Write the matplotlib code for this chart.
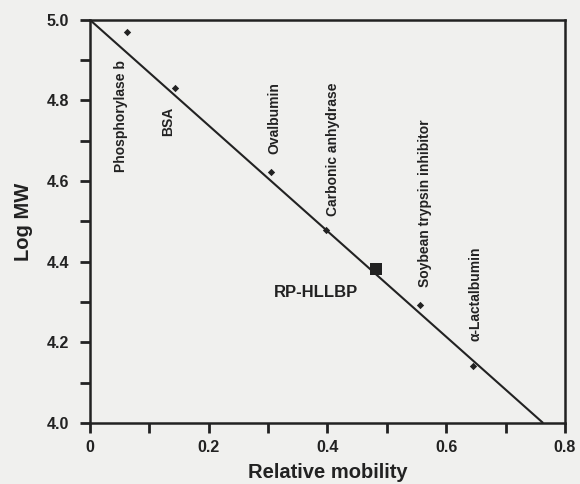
import matplotlib
matplotlib.use("Agg")
import matplotlib.pyplot as plt
from matplotlib.ticker import MultipleLocator, FixedLocator, FormatStrFormatter

# --------------- 数据 ---------------
proteins = ["Phosphorylase b", "BSA", "Ovalbumin", "Carbonic anhydrase",
            "Soybean trypsin inhibitor", "\u03b1-Lactalbumin"]
mobility = [0.062, 0.144, 0.305, 0.397, 0.556, 0.645]
log_mw = [4.970, 4.832, 4.623, 4.479, 4.293, 4.142]

sample_name = "RP-HLLBP"
sample_mobility = 0.481
sample_log_mw = 4.382

fit_slope = -1.31
fit_intercept = 5.0

# 标签位置（文字中心）
label_x = [0.053, 0.131, 0.310, 0.409, 0.564, 0.650]
label_y = [4.762, 4.747, 4.757, 4.680, 4.545, 4.320]

plt.rcParams["font.family"] = ["Liberation Sans", "DejaVu Sans"]
ink = "#222222"
bg = "#f0f0ee"

fig = plt.figure(figsize=(5.8, 4.84), dpi=100, facecolor=bg)
ax = fig.add_axes([0.155, 0.126, 0.819, 0.833], facecolor=bg)

# 回归线：从 y 轴截距画到 x 轴
x_end = (4.0 - fit_intercept) / fit_slope
ax.plot([0.0, x_end], [fit_intercept, fit_intercept + fit_slope * x_end],
        color=ink, lw=1.5, solid_capstyle="butt")

ax.scatter(mobility, log_mw, marker="D", s=14, color=ink, zorder=3, linewidths=0)
ax.scatter([sample_mobility], [sample_log_mw], marker="s", s=80, color=ink,
           zorder=3, linewidths=0)

for name, lx, ly in zip(proteins, label_x, label_y):
    ax.text(lx, ly, name, rotation=90, ha="center", va="center",
            fontsize=10, fontweight="bold", color=ink)
ax.text(0.381, 4.323, sample_name, ha="center", va="center",
        fontsize=12, fontweight="bold", color=ink)

ax.set_xlim(0, 0.8)
ax.set_ylim(4.0, 5.0)
ax.xaxis.set_major_locator(FixedLocator([0.0, 0.2, 0.4, 0.6, 0.8]))
ax.xaxis.set_minor_locator(MultipleLocator(0.1))
ax.yaxis.set_major_locator(MultipleLocator(0.2))
ax.yaxis.set_minor_locator(MultipleLocator(0.1))
ax.set_xticklabels(["0", "0.2", "0.4", "0.6", "0.8"])
ax.yaxis.set_major_formatter(FormatStrFormatter("%.1f"))

ax.tick_params(which="both", direction="out", length=7, width=2, color=ink,
               labelsize=11.5, labelcolor=ink, top=False, right=False)
ax.tick_params(axis="x", pad=5)
ax.tick_params(axis="y", pad=8)
for lab in ax.get_xticklabels() + ax.get_yticklabels():
    lab.set_fontweight("bold")

for sp in ax.spines.values():
    sp.set_linewidth(1.8)
    sp.set_color(ink)

ax.set_xlabel("Relative mobility", fontsize=14.5, fontweight="bold", color=ink, labelpad=6)
ax.set_ylabel("Log MW", fontsize=14.5, fontweight="bold", color=ink, labelpad=10)

fig.savefig("out.png", dpi=100, facecolor=bg)
